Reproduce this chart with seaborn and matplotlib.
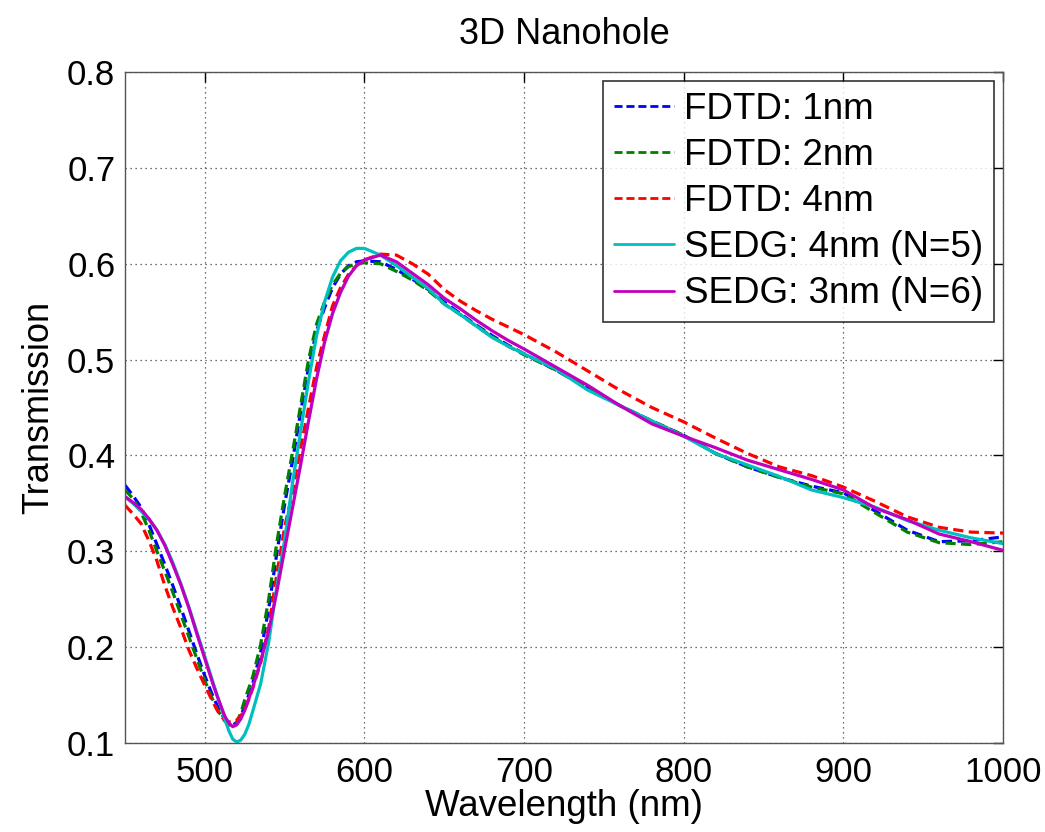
import numpy as np
import pandas as pd
import matplotlib
matplotlib.use("Agg")
import matplotlib.pyplot as plt
import seaborn as sns

wavelength = [450, 455, 460, 465, 470, 475, 480, 485, 490, 495,
              500, 505, 507.5, 510, 512.5, 515, 517.5, 520, 522.5, 525,
              527.5, 530, 535, 540, 545,
              550, 555, 560, 565, 570, 575, 580, 585, 590, 595,
              600, 610, 620, 630, 640, 650, 660, 670, 680, 690,
              700, 720, 740, 760, 780, 800, 820, 840, 860, 880,
              900, 920, 940, 960, 980, 1000]

fdtd_1nm = [0.369, 0.358, 0.346, 0.328, 0.307, 0.286, 0.264, 0.241, 0.217, 0.193,
            0.170, 0.149, 0.140, 0.132, 0.125, 0.121, 0.119, 0.121, 0.128, 0.139,
            0.150, 0.162, 0.195, 0.240, 0.297,
            0.349, 0.395, 0.445, 0.492, 0.530, 0.554, 0.575, 0.589, 0.598, 0.602,
            0.603, 0.602, 0.594, 0.584, 0.573, 0.560, 0.548, 0.536, 0.525, 0.515,
            0.506, 0.489, 0.470, 0.452, 0.436, 0.421, 0.402, 0.388, 0.377, 0.368,
            0.361, 0.342, 0.322, 0.310, 0.311, 0.315]

fdtd_2nm = [0.364, 0.355, 0.341, 0.322, 0.300, 0.279, 0.257, 0.234, 0.211, 0.188,
            0.165, 0.145, 0.136, 0.129, 0.123, 0.119, 0.118, 0.122, 0.131, 0.145,
            0.157, 0.169, 0.203, 0.250, 0.308,
            0.358, 0.404, 0.452, 0.500, 0.537, 0.560, 0.578, 0.590, 0.597, 0.600,
            0.601, 0.600, 0.592, 0.583, 0.572, 0.558, 0.547, 0.535, 0.524, 0.514,
            0.505, 0.489, 0.470, 0.452, 0.436, 0.421, 0.402, 0.388, 0.377, 0.367,
            0.360, 0.340, 0.320, 0.309, 0.307, 0.310]

fdtd_4nm = [0.348, 0.339, 0.329, 0.311, 0.290, 0.264, 0.241, 0.220, 0.197, 0.178,
            0.160, 0.143, 0.135, 0.128, 0.124, 0.122, 0.122, 0.124, 0.128, 0.135,
            0.145, 0.157, 0.184, 0.220, 0.275,
            0.325, 0.362, 0.408, 0.450, 0.492, 0.525, 0.556, 0.575, 0.589, 0.598,
            0.604, 0.610, 0.609, 0.600, 0.589, 0.573, 0.561, 0.551, 0.542, 0.534,
            0.526, 0.508, 0.488, 0.468, 0.450, 0.435, 0.418, 0.402, 0.388, 0.379,
            0.367, 0.352, 0.336, 0.325, 0.320, 0.319]

sedg_4nm_n5 = [0.357, 0.350, 0.342, 0.333, 0.322, 0.307, 0.288, 0.266, 0.242, 0.216,
               0.190, 0.164, 0.151, 0.138, 0.125, 0.113, 0.104, 0.101, 0.103, 0.109,
               0.119, 0.133, 0.162, 0.205, 0.262,
               0.312, 0.372, 0.425, 0.478, 0.525, 0.560, 0.586, 0.603, 0.612, 0.616,
               0.616, 0.609, 0.598, 0.586, 0.574, 0.558, 0.547, 0.535, 0.523, 0.514,
               0.506, 0.490, 0.468, 0.452, 0.436, 0.420, 0.402, 0.390, 0.378, 0.364,
               0.356, 0.346, 0.332, 0.322, 0.314, 0.308]

sedg_3nm_n6 = [0.357, 0.351, 0.344, 0.334, 0.322, 0.306, 0.286, 0.265, 0.241, 0.214,
               0.188, 0.162, 0.150, 0.139, 0.128, 0.121, 0.117, 0.119, 0.125, 0.134,
               0.146, 0.158, 0.185, 0.217, 0.257,
               0.302, 0.346, 0.390, 0.436, 0.480, 0.518, 0.548, 0.570, 0.587, 0.598,
               0.604, 0.609, 0.602, 0.590, 0.578, 0.564, 0.553, 0.541, 0.530, 0.520,
               0.511, 0.492, 0.473, 0.452, 0.433, 0.420, 0.408, 0.395, 0.385, 0.375,
               0.364, 0.345, 0.333, 0.318, 0.310, 0.301]

labels = ["FDTD: 1nm", "FDTD: 2nm", "FDTD: 4nm", "SEDG: 4nm (N=5)", "SEDG: 3nm (N=6)"]
series = [fdtd_1nm, fdtd_2nm, fdtd_4nm, sedg_4nm_n5, sedg_3nm_n6]
colors = ["#0000ff", "#008000", "#ff0000", "#00bfbf", "#bf00bf"]
styles = ["--", "--", "--", "-", "-"]

x_ticks = [500, 600, 700, 800, 900, 1000]
y_ticks = [0.1, 0.2, 0.3, 0.4, 0.5, 0.6, 0.7, 0.8]

sns.set_theme(style="white")
plt.rcParams['font.family'] = ['Liberation Sans', 'DejaVu Sans']
plt.rcParams['text.color'] = 'black'
plt.rcParams['axes.labelcolor'] = 'black'

fig = plt.figure(figsize=(10.45, 8.32), dpi=100)
ax = fig.add_axes([125 / 1045, 1 - 743 / 832, 878 / 1045, 671 / 832])

for lab, vals, col, ls in zip(labels, series, colors, styles):
    df = pd.DataFrame({"Wavelength": wavelength, "Transmission": vals})
    sns.lineplot(data=df, x="Wavelength", y="Transmission", ax=ax,
                 color=col, linewidth=2.3, label=lab)
    l = ax.get_lines()[-1]
    if ls == "--":
        l.set_linestyle((0, (3.2, 1.7)))

ax.set_xlim(450, 1000)
ax.set_ylim(0.1, 0.8)
ax.set_xticks(x_ticks)
ax.set_yticks(y_ticks)
ax.set_yticklabels([f"{v:.1f}" for v in y_ticks])
ax.grid(True, linestyle=(0, (1, 3)), color="#404040", linewidth=0.9)
ax.tick_params(direction="in", length=7, width=1, top=True, right=True,
               labelsize=25, colors="black", pad=9)
ax.tick_params(axis="y", pad=7)
for sp in ax.spines.values():
    sp.set_color("#555555")
    sp.set_linewidth(1)

ax.set_xlabel("Wavelength (nm)", fontsize=26.5, labelpad=0, color="black")
ax.set_ylabel("Transmission", fontsize=26, labelpad=8, color="black")
ax.set_title("3D Nanohole", fontsize=26, pad=20, color="black")

leg = ax.legend(loc="upper right", fontsize=26.5, frameon=True, fancybox=False,
                edgecolor="black", handlelength=1.65, handletextpad=0.25,
                borderpad=0.3, labelspacing=0.3, borderaxespad=0.25)
leg.get_frame().set_linewidth(1.2)
for txt in leg.get_texts():
    txt.set_color("black")
for lh, ls in zip(leg.get_lines(), styles):
    if ls == "--":
        lh.set_linestyle((0, (2.9, 1.4)))
    lh.set_linewidth(2.0)

fig.savefig("out.png", dpi=100, facecolor="white")
